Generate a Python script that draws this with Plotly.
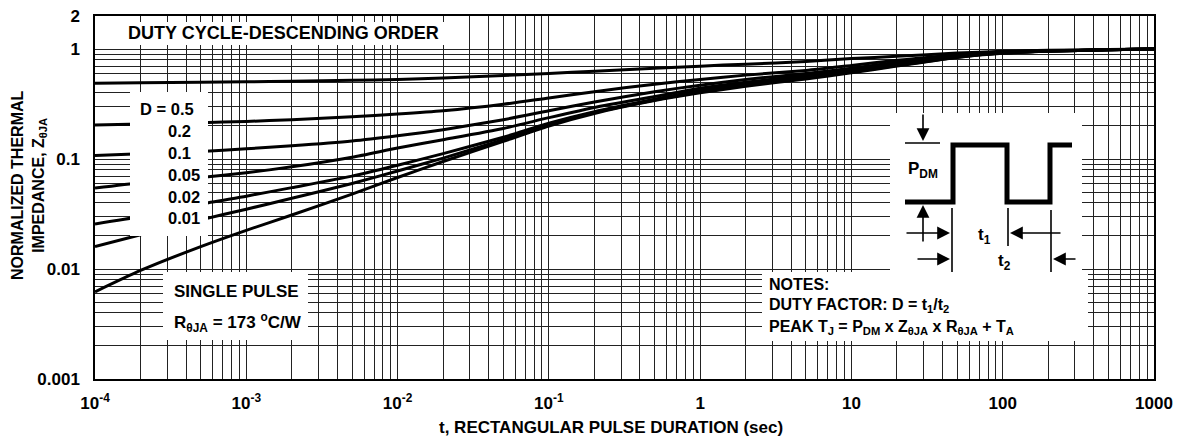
import plotly.graph_objects as go

# ---------------- data ----------------
t = [1e-4, 2e-4, 5e-4, 1e-3, 2e-3, 5e-3, 1e-2, 2e-2, 5e-2, 0.1, 0.2, 0.5,
     1, 2, 5, 10, 20, 50, 100, 200, 500, 1000]
z_d050 = [0.49, 0.495, 0.50, 0.505, 0.51, 0.52, 0.53, 0.545, 0.575, 0.60, 0.63, 0.67,
          0.70, 0.73, 0.77, 0.82, 0.86, 0.92, 0.955, 0.975, 0.99, 1.0]
z_d020 = [0.204, 0.208, 0.214, 0.22, 0.228, 0.243, 0.257, 0.275, 0.315, 0.36, 0.41, 0.48,
          0.53, 0.58, 0.64, 0.71, 0.79, 0.89, 0.94, 0.965, 0.985, 1.0]
z_d010 = [0.108, 0.112, 0.117, 0.124, 0.132, 0.146, 0.163, 0.185, 0.228, 0.275, 0.33, 0.41,
          0.47, 0.53, 0.60, 0.67, 0.76, 0.87, 0.93, 0.96, 0.985, 1.0]
z_d005 = [0.0545, 0.061, 0.068, 0.075, 0.085, 0.104, 0.126, 0.15, 0.19, 0.238, 0.295, 0.37,
          0.44, 0.50, 0.575, 0.65, 0.74, 0.86, 0.925, 0.96, 0.985, 1.0]
z_d002 = [0.0257, 0.030, 0.039, 0.046, 0.055, 0.070, 0.088, 0.112, 0.158, 0.212, 0.27, 0.35,
          0.42, 0.48, 0.555, 0.63, 0.72, 0.85, 0.92, 0.96, 0.985, 1.0]
z_d001 = [0.016, 0.0205, 0.028, 0.035, 0.044, 0.060, 0.078, 0.102, 0.150, 0.205, 0.265, 0.345,
          0.41, 0.47, 0.545, 0.62, 0.71, 0.845, 0.92, 0.96, 0.985, 1.0]
z_single = [0.0062, 0.0097, 0.016, 0.0225, 0.031, 0.048, 0.068, 0.095, 0.145, 0.20, 0.26, 0.34,
            0.40, 0.46, 0.535, 0.61, 0.70, 0.84, 0.915, 0.955, 0.985, 1.0]

series = [("D = 0.5", z_d050), ("0.2", z_d020), ("0.1", z_d010), ("0.05", z_d005),
          ("0.02", z_d002), ("0.01", z_d001), ("SINGLE PULSE", z_single)]

x_major = [1e-4, 1e-3, 1e-2, 1e-1, 1, 10, 100, 1000]
x_labels = ["10<sup>-4</sup>", "10<sup>-3</sup>", "10<sup>-2</sup>", "10<sup>-1</sup>",
            "1", "10", "100", "1000"]
y_major = [0.001, 0.01, 0.1, 1, 2]
y_labels = ["0.001", "0.01", "0.1", "1", "2"]

# ---------------- layout geometry (page pixels) ----------------
OFF = 8                      # page body margin of the html page
W, H = 1184 - OFF, 444 - OFF
L, R, T, B = 95, 1154, 16, 379
PW, PH = R - L, B - T
FONT = "Liberation Sans, Arial, Helvetica, sans-serif"


def px(xp):
    return (xp - L) / PW


def py(yp):
    return (B - yp) / PH


x_minor = [d * 10.0 ** e for e in range(-4, 3) for d in range(2, 10)]
y_minor = [d * 10.0 ** e for e in range(-3, 0) for d in range(2, 10)]

fig = go.Figure()
for name, z in series:
    fig.add_trace(go.Scatter(x=t, y=z, mode="lines", name=name,
                             line=dict(color="black", width=3, shape="spline", smoothing=0.6),
                             showlegend=False, hoverinfo="skip"))

GRID = "#222222"
TF = dict(size=17, color="black", family=FONT, weight="bold")
fig.update_xaxes(type="log", range=[-4, 3], tickmode="array", tickvals=x_major, ticktext=x_labels,
                 showgrid=True, gridcolor=GRID, gridwidth=1, showline=True, mirror=True,
                 linecolor="black", linewidth=1.5, ticks="", ticklabelstandoff=8,
                 automargin=False, tickfont=TF, ticklabeloverflow="allow",
                 minor=dict(tickmode="array", tickvals=x_minor, showgrid=True,
                            gridcolor=GRID, gridwidth=1, ticks=""))
fig.update_yaxes(type="log", range=[-3, 0.30104], tickmode="array", tickvals=y_major, ticktext=y_labels,
                 showgrid=True, gridcolor=GRID, gridwidth=1, showline=True, mirror=True,
                 linecolor="black", linewidth=1.5, ticks="", ticklabelstandoff=10,
                 automargin=False, tickfont=TF, ticklabeloverflow="allow",
                 minor=dict(tickmode="array", tickvals=y_minor, showgrid=True,
                            gridcolor=GRID, gridwidth=1, ticks=""))

shapes = []
annotations = []


def white_box(x0, y0, x1, y1):
    shapes.append(dict(type="rect", xref="paper", yref="paper", x0=px(x0), x1=px(x1),
                       y0=py(y1), y1=py(y0), fillcolor="white", line=dict(width=0),
                       layer="above"))


def text(s, x, y, size=16, xanchor="left", angle=0):
    annotations.append(dict(text=s, xref="paper", yref="paper", x=px(x), y=py(y),
                            xanchor=xanchor, yanchor="middle", showarrow=False,
                            textangle=angle,
                            font=dict(size=size, color="black", family=FONT, weight="bold")))


def arrow(tipx, tipy, tailx, taily):
    annotations.append(dict(text="", xref="paper", yref="paper", x=px(tipx), y=py(tipy),
                            ax=tailx - tipx, ay=taily - tipy, axref="pixel", ayref="pixel",
                            showarrow=True, arrowhead=2, arrowsize=1.6, arrowwidth=1.6,
                            arrowcolor="black", standoff=0, startstandoff=0))


def seg(x0, y0, x1, y1, w=1.6):
    shapes.append(dict(type="line", xref="paper", yref="paper", x0=px(x0), y0=py(y0),
                       x1=px(x1), y1=py(y1), line=dict(color="black", width=w), layer="above"))


# white boxes
white_box(118, 22, 450, 45)      # title
white_box(130, 92, 208, 236)     # duty cycle labels
white_box(163, 272, 308, 340)    # single pulse
white_box(890, 113, 1082, 272)   # pulse diagram
white_box(762, 272, 1088, 341)   # notes

# texts
text("DUTY CYCLE-DESCENDING ORDER", 126, 33, size=18)
text("D = 0.5", 138, 109, size=16.5)
for lbl, yy in [("0.2", 131), ("0.1", 152.5), ("0.05", 174.5), ("0.02", 197), ("0.01", 217.5)]:
    text(lbl, 166, yy, size=16.5)
text("SINGLE PULSE", 172, 291, size=17)
text("R<sub>θJA</sub> = 173 <sup>o</sup>C/W", 172, 322, size=17)
text("NOTES:", 767, 284, size=16)
text("DUTY FACTOR: D = t<sub>1</sub>/t<sub>2</sub>", 767, 305, size=16)
text("PEAK T<sub>J</sub> = P<sub>DM</sub> x Z<sub>θJA</sub> x R<sub>θJA</sub> + T<sub>A</sub>",
     767, 327, size=16)

# pulse diagram
wave = [(905, 202), (953, 202), (953, 145), (1007, 145), (1007, 202), (1050, 202),
        (1050, 145), (1072, 145)]
path = "M " + " L ".join(f"{px(a):.5f},{py(b):.5f}" for a, b in wave)
shapes.append(dict(type="path", xref="paper", yref="paper", path=path,
                   line=dict(color="black", width=5), layer="above"))
seg(905, 143, 940, 143)
arrow(923, 141, 923, 113)
arrow(923, 205, 923, 243)
seg(952, 208, 952, 272)
seg(1008, 208, 1008, 246)
seg(1051, 210, 1051, 272)
arrow(950, 233, 905, 233)
arrow(1010, 233, 1062, 233)
arrow(950, 259, 916, 259)
arrow(1053, 259, 1077, 259)
text("P<sub>DM</sub>", 906, 170, size=17)
text("t<sub>1</sub>", 976, 236, size=17)
text("t<sub>2</sub>", 996, 262, size=17)

# axis titles
text("t, RECTANGULAR PULSE DURATION (sec)", 611, 428, size=17, xanchor="center")
text("NORMALIZED THERMAL<br>IMPEDANCE, Z<sub>θJA</sub>", 29, 185, size=16,
     xanchor="center", angle=-90)

fig.update_layout(width=W, height=H,
                  margin=dict(l=L - OFF, r=W + OFF - R, t=T - OFF, b=H + OFF - B),
                  paper_bgcolor="white", plot_bgcolor="white",
                  font=dict(family=FONT, color="black", weight="bold"),
                  shapes=shapes, annotations=annotations, showlegend=False)

fig.write_html("out.html")
